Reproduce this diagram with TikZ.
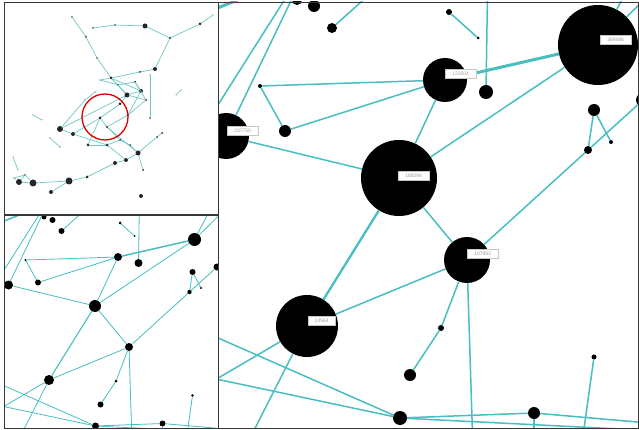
\documentclass[tikz,border=0pt]{standalone}
\usepackage{fontspec}
\setmainfont{Liberation Sans}
\definecolor{edgec}{RGB}{72,190,192}
\definecolor{framec}{RGB}{55,55,55}
\definecolor{ovedge}{RGB}{110,200,200}
\tikzset{
  edgeme/.style={draw=edgec, line width=1.5pt},
  edgemk/.style={draw=edgec, line width=2.3pt},
  edgemK/.style={draw=edgec, line width=3pt},
  edgebe/.style={draw=edgec, line width=0.8pt},
  edgebk/.style={draw=edgec, line width=1.1pt},
  edgebK/.style={draw=edgec, line width=1.5pt},
  dot/.style={circle, fill=black, inner sep=0pt, outer sep=0pt},
  odot/.style={circle, fill=black!85, inner sep=0pt, outer sep=0pt},
  oedge/.style={draw=ovedge, line width=0.7pt},
  lbl/.style={anchor=west, fill=white, draw=gray!45, line width=0.3pt, text=gray!75,
    font=\fontsize{5}{5}\selectfont, inner sep=1.2pt, minimum height=9pt, minimum width=31pt},
  frame/.style={draw=framec, line width=0.9pt},
  lens/.style={draw=red!85!black, line width=1.3pt}
}
\def\nodelist{A/399/178/38/6, B/598/45/40/6.5, C/445/80/22/4, D/226/136/23/4.5,
  E/467/260/23/4, F/307/326/31/5, s1/314/6/6/3, s2/332/28/5/3, s3/285/131/6/3,
  s4/486/92/7/4, s5/594/110/6/3, s6/588/150/4/2.2, s7/611/142/2/1.2, s8/643/100/7/3.5,
  s9/410/375/6/3, s10/400/418/7/3.5, s11/534/413/6/3, s12/594/357/2.5/1.3,
  s13/441/328/3/1.5, s14/449/12/3/1.5, s15/297/0/5/2.5, t1/260/86/2/1.2, t2/478/38/1.5/1}
\def\coordlist{p1/300/-18, p2/297/-20, p3/180/165, p4/380/-15, p5/488/-40, p6/190/19,
  p7/250/-5, p8/628/-12, p9/650/-6, p10/150/418, p11/150/308, p12/150/365, p13/244/450,
  p14/473/450, p15/581/450, p16/534/450, p17/660/424, p18/660/431}
\def\edgelist{D/A/e, C/A/e, A/B/e, A/E/e, A/F/k, F/E/e, C/B/K, t1/C/e, t1/s3/e, s3/C/e,
  s4/p5/e, s5/s6/e, s5/s7/e, E/s6/e, s6/s8/e, E/s13/e, s13/s9/e, E/p14/e, s12/p15/e,
  s11/p16/e, s2/p4/e, D/p1/e, p2/p3/e, p6/p7/K, B/p8/e, B/p9/e, F/p10/e, s10/p11/e,
  s10/p12/e, F/p13/e, s10/s11/e, s11/p17/e, s10/p18/e, s14/t2/e}
% #1 prefix, #2 scale, #3 x offset, #4 y offset, #5 radius column (1 main, 2 small)
\newcommand\drawgraph[5]{%
  \foreach \n/\x/\y/\ra/\rb in \nodelist {%
    \ifnum#5=1 \let\r\ra \else \let\r\rb \fi
    \node[dot, minimum size={2*\r*1pt}] (#1\n) at ({#2*\x+#3},{#2*\y+#4}) {};
  }
  \foreach \n/\x/\y in \coordlist {%
    \coordinate (#1\n) at ({#2*\x+#3},{#2*\y+#4});
  }
  \foreach \a/\b/\t in \edgelist {%
    \draw[edge#1\t] (#1\a) -- (#1\b);
  }
}
\begin{document}
\begin{tikzpicture}[x=1pt,y=-1pt]
\useasboundingbox (0,0) rectangle (639,430);
\fill[white] (0,0) rectangle (639,430);

% ---------- main (magnified) panel ----------
\begin{scope}
  \clip (218,2) rectangle (639,428);
  \drawgraph{m}{1}{0}{0}{1}
  \node[lbl] (lD) at ([yshift=5pt,xshift=1pt]mD.center) {237750};
  \node[lbl] (lA) at ([yshift=2pt,xshift=-1pt]mA.center) {189294};
  \node[lbl] (lC) at ([yshift=6pt]mC.center) {123504};
  \node[lbl] (lB) at ([yshift=5pt,xshift=2pt]mB.center) {389486};
  \node[lbl] (lE) at ([yshift=6pt]mE.center) {107983};
  \node[lbl, minimum width=27pt] (lF) at ([yshift=5pt,xshift=1pt]mF.center) {13564};
\end{scope}

% ---------- bottom-left panel (same region, half scale) ----------
\begin{scope}
  \clip (4,215) rectangle (218,428);
  \drawgraph{b}{0.5}{-104.5}{217}{2}
\end{scope}

% ---------- top-left overview panel ----------
\begin{scope}
  \clip (4,2) rectangle (218,214);
  \foreach \n/\x/\y/\r in {o1/72/17/0.8, o2/86/37/1, o3/97/58/0.8, o4/93/28/0.8,
    o5/115/25/0.8, o6/145/26/2.5, o7/170/38/1.2, o8/200/24/1.5, o9/213/15/0.5,
    o10/155/69/2, o11/140/72/1, o12/111/78/1.5, o13/150/118/0.8, o13a/150/75/0.5,
    o14/127/95/2.5, o15/141/91/2, o16/120/104/1.5, o17/100/118/1.5, o18/107/127/1.2,
    o19/60/129/3, o20/73/134/2, o21/88/145/1.5, o22/107/145/1.5, o23/115/163/2,
    o24/126/160/2, o25/138/153/2.5, o26/157/137/1, o27/162/133/1, o28/19/182/3,
    o29/33/183/3.5, o30/51/192/2, o31/69/181/3.5, o32/87/177/1.5, o33/141/196/2,
    o34/143/170/1, o35/33/115/0.5, o36/42/120/0.5, o37/50/138/0.6, o38/60/147/0.6,
    o39/13/157/0.5, o40/18/170/0.5, o41/176/95/0.5, o42/181/90/0.5, o43/128/115/1,
    o44/85/100/0.6, o45/95/92/0.6, o46/25/175/0.8, o47/14/178/0.6, o48/118/85/1,
    o49/135/82/1, o50/146/100/1, o51/120/140/1, o52/130/145/1, o53/100/80/0.6}
    {\node[odot, minimum size={2*\r*1pt}] (\n) at (\x,\y) {};}
  \foreach \a/\b in {o1/o2, o2/o3, o3/o12, o4/o5, o5/o6, o6/o7, o7/o8, o8/o9, o7/o10,
    o10/o11, o11/o12, o13a/o13, o12/o14, o12/o15, o14/o15, o14/o16, o16/o17, o17/o18,
    o19/o14, o19/o20, o20/o17, o20/o22, o21/o22, o22/o24, o23/o24, o24/o25, o25/o26,
    o26/o27, o31/o32, o32/o23, o29/o31, o28/o29, o30/o31, o25/o34, o35/o36, o37/o38,
    o39/o40, o41/o42, o18/o25, o17/o21, o43/o15, o43/o18, o44/o45, o19/o44,
    o28/o46, o29/o46, o46/o47, o47/o28, o12/o48, o48/o49, o49/o15, o48/o14, o49/o50,
    o50/o14, o50/o43, o22/o51, o51/o52, o52/o25, o51/o18, o53/o12, o53/o48}
    {\draw[oedge] (\a) -- (\b);}
  \node[lens, circle, minimum size=46pt, inner sep=0pt] (lens) at (105,117) {};
\end{scope}

% ---------- frames ----------
\draw[frame] (4,2) rectangle (218,214);
\draw[frame] (4,215) rectangle (218,428);
\draw[frame] (218,2) rectangle (638.5,428);
\end{tikzpicture}
\end{document}
